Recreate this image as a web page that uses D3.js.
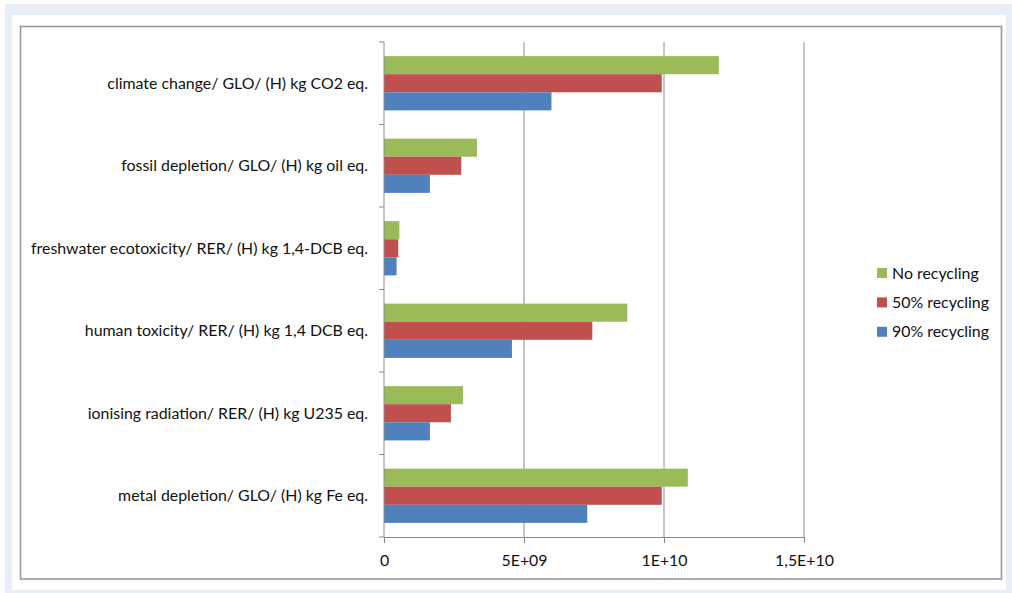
<!DOCTYPE html>
<html>
<head>
<meta charset="utf-8">
<script src="https://cdn.jsdelivr.net/npm/d3@7"></script>
<style>
  html, body { margin: 0; padding: 0; background: #ffffff; }
  svg { display: block; }
  text { font-family: Lato, "Open Sans", sans-serif; fill: #111111; }
</style>
</head>
<body>
<svg id="chart" width="1012" height="593"></svg>
<script>
// Impact categories (top to bottom)
const categories = [
  "climate change/ GLO/ (H) kg CO2 eq.",
  "fossil depletion/ GLO/ (H) kg oil eq.",
  "freshwater ecotoxicity/ RER/ (H) kg 1,4-DCB eq.",
  "human toxicity/ RER/ (H) kg 1,4 DCB eq.",
  "ionising radiation/ RER/ (H) kg U235 eq.",
  "metal depletion/ GLO/ (H) kg Fe eq."
];

// Scenario names, in legend order
const seriesNames = ["No recycling", "50% recycling", "90% recycling"];

// Impact values per scenario
const noRecycling    = [1.196e10, 3.32e9, 0.55e9, 8.69e9, 2.82e9, 1.085e10];
const recycling50    = [0.992e10, 2.76e9, 0.51e9, 7.44e9, 2.39e9, 0.992e10];
const recycling90    = [0.598e10, 1.64e9, 0.45e9, 4.57e9, 1.64e9, 0.726e10];

// Axis ticks
const xTickValues = [0, 5e9, 1e10, 1.5e10];
const xTickLabels = ["0", "5E+09", "1E+10", "1,5E+10"];

const seriesValues = [noRecycling, recycling50, recycling90];
const colors = ["#9bbb59", "#c0504d", "#4f81bd"];
const fontSize = 15.9;

const svg = d3.select("#chart");

// Page frame
svg.append("rect").attr("x", 5).attr("y", 4).attr("width", 1007).attr("height", 589)
  .attr("fill", "#e8eef7");
svg.append("rect").attr("x", 12).attr("y", 15).attr("width", 994).attr("height", 575)
  .attr("fill", "#ffffff");
svg.append("rect").attr("x", 20.5).attr("y", 26.5).attr("width", 981).attr("height", 552.5)
  .attr("fill", "#ffffff").attr("stroke", "#9a9a9a").attr("stroke-width", 1.6);

const plot = { left: 384, right: 804, top: 42, bottom: 537 };

const x = d3.scaleLinear().domain([0, 1.5e10]).range([plot.left, plot.right]);
const y = d3.scaleBand().domain(categories).range([plot.top, plot.bottom]).padding(0);
const ySub = d3.scaleBand().domain(seriesNames).range([0, y.bandwidth()])
  .paddingInner(0).paddingOuter(0.78);

// Vertical gridlines
svg.append("g").selectAll("line")
  .data(xTickValues.slice(1))
  .join("line")
  .attr("x1", d => x(d)).attr("x2", d => x(d))
  .attr("y1", plot.top).attr("y2", plot.bottom)
  .attr("stroke", "#8a8a8a").attr("stroke-width", 1);

// Bars
const rows = [];
categories.forEach((c, i) => {
  seriesNames.forEach((s, j) => rows.push({ cat: c, series: s, value: seriesValues[j][i], color: colors[j] }));
});
svg.append("g").selectAll("rect")
  .data(rows)
  .join("rect")
  .attr("x", x(0))
  .attr("y", d => y(d.cat) + ySub(d.series))
  .attr("width", d => x(d.value) - x(0))
  .attr("height", ySub.bandwidth())
  .attr("fill", d => d.color);

// X axis
const xAxis = svg.append("g")
  .attr("transform", `translate(0,${plot.bottom})`)
  .call(d3.axisBottom(x).tickValues(xTickValues)
    .tickFormat((d, i) => xTickLabels[i]).tickSize(6).tickSizeOuter(0).tickPadding(12));
xAxis.select(".domain").attr("stroke", "#8a8a8a");
xAxis.selectAll(".tick line").attr("stroke", "#8a8a8a");
xAxis.selectAll("text").attr("font-size", fontSize).attr("fill", "#111111")
  .style("font-family", "Lato, 'Open Sans', sans-serif");

// Y axis: line with tick marks on category boundaries
const yAxis = svg.append("g");
yAxis.append("line")
  .attr("x1", plot.left).attr("x2", plot.left)
  .attr("y1", plot.top).attr("y2", plot.bottom)
  .attr("stroke", "#8a8a8a");
const boundaries = categories.map(c => y(c)).concat([y(categories[categories.length - 1]) + y.bandwidth()]);
yAxis.selectAll("line.tick")
  .data(boundaries)
  .join("line").attr("class", "tick")
  .attr("x1", plot.left - 5).attr("x2", plot.left)
  .attr("y1", d => d).attr("y2", d => d)
  .attr("stroke", "#8a8a8a");
yAxis.selectAll("text")
  .data(categories)
  .join("text")
  .attr("x", plot.left - 16)
  .attr("y", d => y(d) + y.bandwidth() / 2)
  .attr("dy", "0.35em")
  .attr("text-anchor", "end")
  .attr("font-size", fontSize)
  .text(d => d);

// Legend
const legend = svg.append("g").attr("transform", "translate(877,273)");
const item = legend.selectAll("g")
  .data(seriesNames)
  .join("g")
  .attr("transform", (d, i) => `translate(0,${i * 29.4})`);
item.append("rect").attr("x", 0).attr("y", -5).attr("width", 10).attr("height", 10)
  .attr("fill", (d, i) => colors[i]);
item.append("text").attr("x", 15).attr("dy", "0.35em").attr("font-size", fontSize).text(d => d);
</script>
</body>
</html>
